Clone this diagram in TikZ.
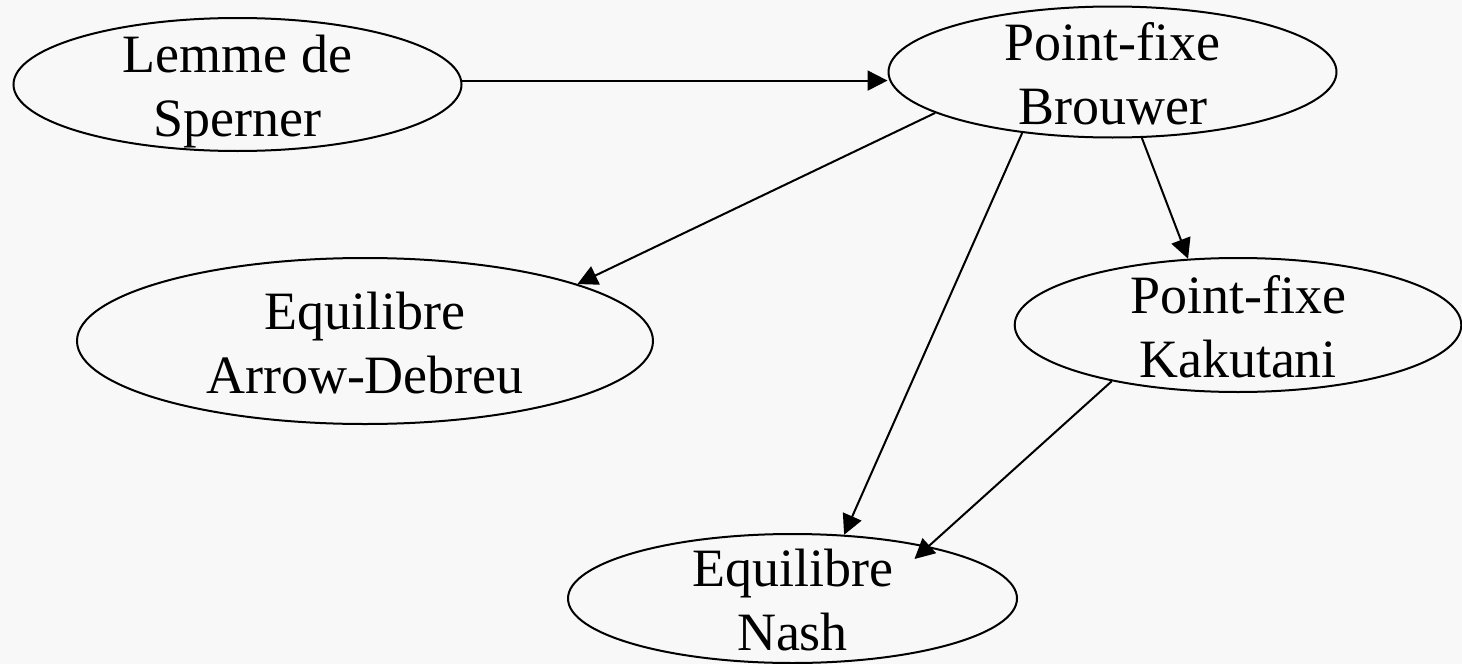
\documentclass[tikz,border=0pt]{standalone}
\usepackage{fontspec}
\setmainfont{Liberation Serif}
\usetikzlibrary{arrows.meta,shapes.geometric}
\definecolor{bgc}{RGB}{248,248,248}
\newcommand\twoline[2]{\smash{\raisebox{-26pt}{\begin{tabular}[b]{@{}c@{}}#1\\#2\end{tabular}}}}
\begin{document}
\begin{tikzpicture}[x=0.5pt,y=-0.5pt,
  ell/.style={ellipse, draw, line width=1pt, inner sep=0pt, font=\fontsize{27}{32}\selectfont},
  conn/.style={line width=1pt, -{Triangle[length=10pt,width=10pt]}}]
\fill[bgc] (0,0) rectangle (1462,664);
\useasboundingbox (0,0) rectangle (1462,664);
\node[ell, minimum width=224pt, minimum height=66.5pt] (S) at (237.5,84.5) {\twoline{Lemme de}{Sperner}};
\node[ell, minimum width=224pt, minimum height=65.5pt] (B) at (1112.5,72) {\twoline{Point-fixe}{Brouwer}};
\node[ell, minimum width=288pt, minimum height=83pt] (A) at (365,341) {\twoline{Equilibre}{Arrow-Debreu}};
\node[ell, minimum width=223.3pt, minimum height=67pt] (K) at (1238,325) {\twoline{Point-fixe}{Kakutani}};
\node[ell, minimum width=224.5pt, minimum height=64.5pt] (N) at (792.5,598.5) {\twoline{Equilibre}{Nash}};
\draw[conn] (S.1.4) -- (S.1.4 -| B.west);
\draw[conn] (B.193.4) -- (A.15.9);
\draw[conn] (B.294.8) -- (K.127.4);
\draw[conn] (B.214) -- (N.51.3);
\draw[conn, shorten >=-9.5pt] (K.204.7) -- (N.21.8);
\end{tikzpicture}
\end{document}
